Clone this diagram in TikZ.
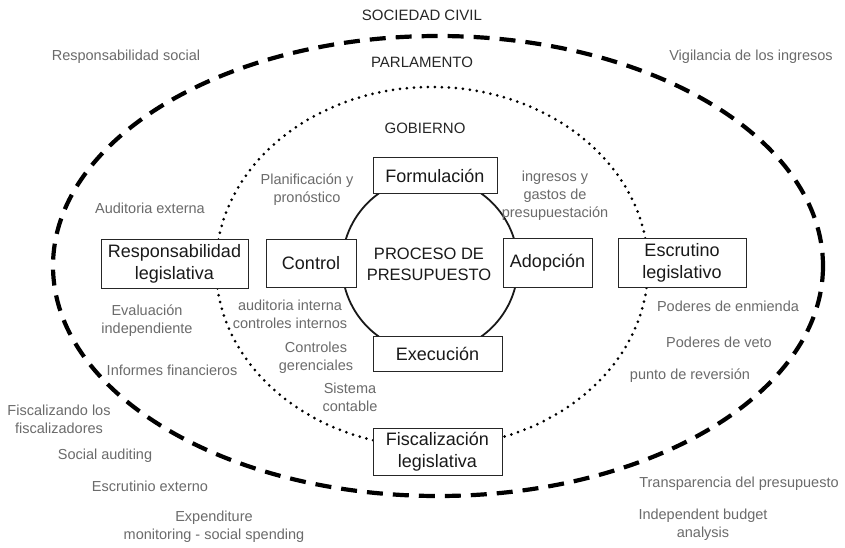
\documentclass[tikz,border=0pt]{standalone}
\usepackage{fontspec}
\setmainfont{Liberation Sans}
\begin{document}
\begin{tikzpicture}[x=1pt,y=-1pt,
  box/.style={draw=black!85, line width=1pt, fill=white, inner sep=0pt, align=center,
              font=\fontsize{18}{22}\selectfont, text=black!90},
  lbl/.style={text=black!58, font=\fontsize{14.5}{18}\selectfont, align=center, inner sep=0pt},
  ttl/.style={text=black!85, font=\fontsize{15}{18}\selectfont, inner sep=0pt},
  outerring/.style={line width=4.2pt, dash pattern=on 16pt off 10pt},
  innerring/.style={line width=3pt, dash pattern=on 0pt off 7pt, line cap=round},
  cycle/.style={line width=1.8pt, draw=black!90}]
\useasboundingbox (0,0) rectangle (845,548);
\fill[white] (0,0) rectangle (845,548);
% rings
\draw[outerring] (438,266) ellipse [x radius=385, y radius=230];
\draw[innerring] (432,267) ellipse [x radius=216, y radius=180];
\draw[cycle] (430,265) circle [radius=88];
% titles
\node[ttl] (soc) at (422,15) {SOCIEDAD CIVIL};
\node[ttl] (par) at (422,62) {PARLAMENTO};
\node[ttl] (gob) at (425,128) {GOBIERNO};
\node[box, text=black!90, draw=none, fill=none, font=\fontsize{16.5}{21}\selectfont] (proc) at (429,264.5) {PROCESO DE\\PRESUPUESTO};
% boxes
\node[box, minimum width=124pt, minimum height=35pt] (form) at (435,175.5) {Formulación};
\node[box, minimum width=90pt, minimum height=48pt] (ctrl) at (311,263) {Control};
\node[box, minimum width=89pt, minimum height=49pt] (adop) at (547.5,262.5) {Adopción};
\node[box, minimum width=129pt, minimum height=35pt] (exec) at (437.5,353.5) {Execución};
\node[box, minimum width=147pt, minimum height=49pt] (resp) at (174.5,263.5) {Responsabilidad\\legislativa};
\node[box, minimum width=128pt, minimum height=49pt] (escr) at (682,262.5) {Escrutino\\legislativo};
\node[box, minimum width=129pt, minimum height=47pt] (fisc) at (437.5,451.5) {Fiscalización\\legislativa};
% labels
\node[lbl] (l1) at (126,57) {Responsabilidad social};
\node[lbl] (l2) at (751,57) {Vigilancia de los ingresos};
\node[lbl] (l3) at (307,189.5) {Planificación y\\pronóstico};
\node[lbl] (l4) at (555,196) {ingresos y\\gastos de\\presupuestación};
\node[lbl] (l5) at (150,208) {Auditoria externa};
\node[lbl] (l6) at (147,320.5) {Evaluación\\independiente};
\node[lbl] (l7) at (290,314.5) {auditoria interna\\controles internos};
\node[lbl] (l8) at (316,357.5) {Controles\\gerenciales};
\node[lbl] (l9) at (172,370) {Informes financieros};
\node[lbl] (l10) at (350,397) {Sistema\\contable};
\node[lbl] (l11) at (59,419.5) {Fiscalizando los\\fiscalizadores};
\node[lbl] (l12) at (105,456) {Social auditing};
\node[lbl] (l13) at (150,486) {Escrutinio externo};
\node[lbl] (l14) at (214,527) {Expenditure\\monitoring - social spending};
\node[lbl] (l15) at (728,306) {Poderes de enmienda};
\node[lbl] (l16) at (719,342) {Poderes de veto};
\node[lbl] (l17) at (690,376) {punto de reversión};
\node[lbl] (l18) at (739,484) {Transparencia del presupuesto};
\node[lbl] (l19) at (703,524.5) {Independent budget\\analysis};
\end{tikzpicture}
\end{document}
